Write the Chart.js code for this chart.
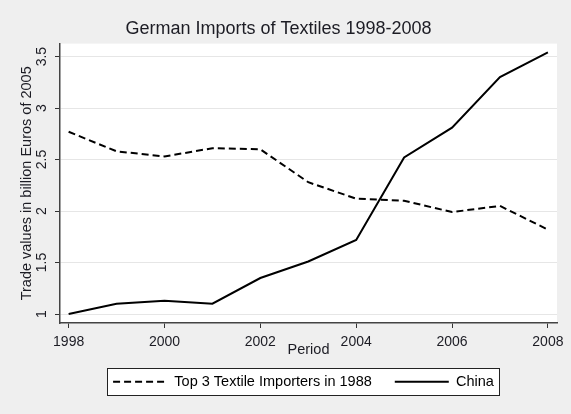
<!DOCTYPE html>
<html>
<head>
<meta charset="utf-8">
<script src="https://cdn.jsdelivr.net/npm/chart.js@4.4.0/dist/chart.umd.min.js"></script>
<style>
  html, body { margin: 0; padding: 0; background: #efefef; }
  #wrap { width: 571px; height: 414px; }
</style>
</head>
<body>
<div id="wrap"><canvas id="chart"></canvas></div>
<script>
// Data (billion Euros of 2005)
const years = [1998, 1999, 2000, 2001, 2002, 2003, 2004, 2005, 2006, 2007, 2008];
const top3 = [2.77, 2.58, 2.53, 2.61, 2.60, 2.28, 2.12, 2.10, 1.99, 2.05, 1.82];
const china = [1.00, 1.10, 1.13, 1.10, 1.35, 1.51, 1.72, 2.52, 2.81, 3.30, 3.54];
const seriesLabels = ['Top 3 Textile Importers in 1988', 'China'];

const FONT = "'Liberation Sans', Arial, sans-serif";
const TEXT = '#1c1c24';

function pts(vals) {
  return years.map((y, i) => ({ x: y, y: vals[i] }));
}

// grey page + white plot region, boxed legend
const backdrop = {
  id: 'backdrop',
  afterLayout(chart) {
    // centre the legend under the plot like the original
    const lg = chart.legend;
    lg.left += 25;
    lg.right += 25;
  },
  beforeDraw(chart) {
    const { ctx, chartArea: a } = chart;
    ctx.save();
    ctx.fillStyle = '#efefef';
    ctx.fillRect(0, 0, chart.width, chart.height);
    ctx.fillStyle = '#ffffff';
    ctx.fillRect(a.left, a.top, a.right - a.left, a.bottom - a.top);

    const hb = chart.legend.legendHitBoxes;
    if (hb && hb.length) {
      const l = Math.min(...hb.map(h => h.left)) - 6;
      const r = Math.max(...hb.map(h => h.left + h.width)) + 5;
      const mid = hb[0].top + hb[0].height / 2;
      ctx.fillStyle = '#ffffff';
      ctx.fillRect(l, mid - 13.5, r - l, 27);
      ctx.strokeStyle = '#222';
      ctx.lineWidth = 1;
      ctx.strokeRect(Math.round(l) + 0.5, Math.round(mid - 13.5) + 0.5, Math.round(r - l), 27);
    }
    ctx.restore();
  }
};

new Chart(document.getElementById('chart'), {
  type: 'line',
  data: {
    datasets: [
      {
        label: seriesLabels[0],
        data: pts(top3),
        borderColor: '#000',
        borderWidth: 2,
        borderDash: [7, 4],
        pointRadius: 0,
        tension: 0,
        fill: false
      },
      {
        label: seriesLabels[1],
        data: pts(china),
        borderColor: '#000',
        borderWidth: 2,
        pointRadius: 0,
        tension: 0,
        fill: false
      }
    ]
  },
  options: {
    responsive: true,
    maintainAspectRatio: false,
    animation: false,
    layout: { padding: { top: 0, left: 0, right: 14, bottom: 15 } },
    plugins: {
      title: {
        display: true,
        text: 'German Imports of Textiles 1998-2008',
        color: TEXT,
        font: { family: FONT, size: 18, weight: 'normal' },
        padding: { top: 18, bottom: 4 }
      },
      legend: {
        position: 'bottom',
        labels: {
          color: '#000',
          font: { family: FONT, size: 14.5 },
          usePointStyle: true,
          pointStyle: 'line',
          pointStyleWidth: 54,
          padding: 23,
          // line samples take the dash of their dataset
          generateLabels(chart) {
            const items = Chart.defaults.plugins.legend.labels.generateLabels(chart);
            items.forEach((it, i) => {
              it.lineDash = chart.data.datasets[i].borderDash || [];
              it.lineWidth = 2;
              it.strokeStyle = '#000';
            });
            return items;
          }
        }
      },
      tooltip: { enabled: false }
    },
    scales: {
      x: {
        type: 'linear',
        min: 1997.82,
        max: 2008.19,
        afterFit(scale) { scale.height = 28.5; },
        ticks: {
          stepSize: 2,
          includeBounds: false,
          color: TEXT,
          padding: 6,
          font: { family: FONT, size: 14 },
          callback: v => String(v)
        },
        grid: { drawOnChartArea: false, tickLength: 5, tickColor: '#333', tickWidth: 1 },
        border: { color: '#444', width: 1.5 },
        title: {
          display: true,
          text: 'Period',
          color: TEXT,
          font: { family: FONT, size: 14.5 },
          padding: { top: 0, bottom: -7 }
        }
      },
      y: {
        min: 0.913,
        max: 3.626,
        afterFit(scale) { scale.width = 60; },
        ticks: {
          stepSize: 0.5,
          includeBounds: false,
          minRotation: 90,
          maxRotation: 90,
          crossAlign: 'center',
          padding: 3,
          color: TEXT,
          font: { family: FONT, size: 14 },
          callback: v => String(v)
        },
        grid: { color: '#e6e6e6', lineWidth: 1, tickLength: 5, tickColor: '#333', tickWidth: 1 },
        border: { color: '#444', width: 1.5 },
        title: {
          display: true,
          text: 'Trade values in billion Euros of 2005',
          color: TEXT,
          font: { family: FONT, size: 14.5 },
          padding: { top: 18, bottom: 0 }
        }
      }
    }
  },
  plugins: [backdrop]
});
</script>
</body>
</html>
